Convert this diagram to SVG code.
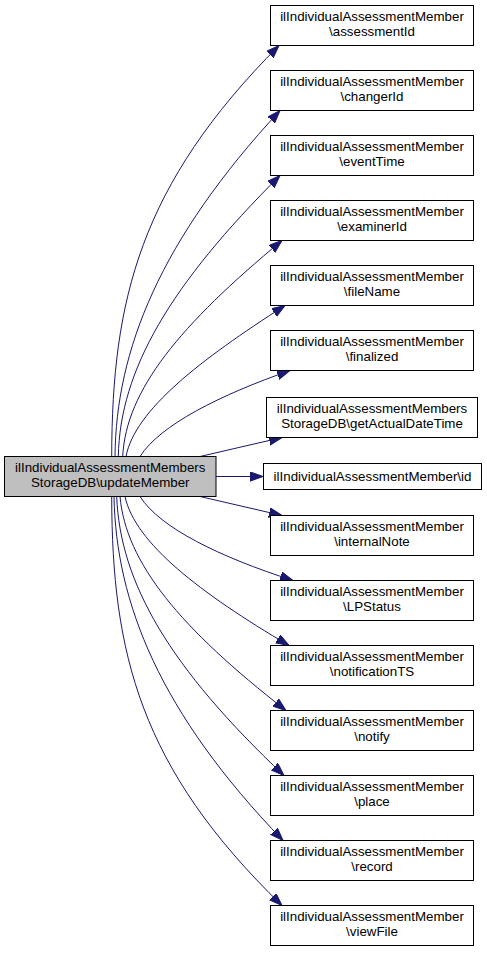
<svg xmlns="http://www.w3.org/2000/svg" width="487" height="953" viewBox="0 0 487 953">
<style>
.node rect{fill:#ffffff;stroke:#000000;stroke-width:1}
.node.cur rect{fill:#bfbfbf}
.node text{font-family:"Liberation Sans",Arial,Helvetica,sans-serif;font-size:13.33px;fill:#000000;text-anchor:middle}
.edges path{fill:none;stroke:#191970;stroke-width:1;marker-end:url(#arr)}
</style>
<defs>
<marker id="arr" markerUnits="userSpaceOnUse" markerWidth="14" markerHeight="10" refX="13" refY="4.7" orient="auto">
<path d="M0,0 L13,4.7 L0,9.4 z" fill="#191970" stroke="#191970" stroke-width="1"/>
</marker>
</defs>
<rect width="487" height="953" fill="#ffffff"/>
<g class="edges" id="edges">
<path d="M111.7,456.5 C112,300 140,185 279,45.5"/>
<path d="M115,456.5 C116,350 160,240 280,110.5"/>
<path d="M118.3,456.5 C120,370 170,285 280,175.5"/>
<path d="M122.7,456.5 C126,390 180,325 282,240.5"/>
<path d="M126,456.5 C135,410 200,360 285,305.5"/>
<path d="M140,456.5 C160,425 220,395 290,370.5"/>
<path d="M200,456.5 L282,437.5"/>
<path d="M216,476.5 L263,476.5"/>
<path d="M200,496.5 L282,515.5"/>
<path d="M140,496.5 C160,528 220,557 293,580.5"/>
<path d="M125,496.5 C135,543 200,593 289,645.5"/>
<path d="M120,496.5 C126,563 180,628 286,710.5"/>
<path d="M116.7,496.5 C120,583 170,668 284,775.5"/>
<path d="M114,496.5 C116,603 160,713 283,840.5"/>
<path d="M111.7,496.5 C112,653 140,768 282,905.5"/>
</g>
<g class="node cur" id="node_updateMember">
<rect x="4.5" y="456.5" width="211.5" height="40"/>
<text x="110.25" y="472">ilIndividualAssessmentMembers</text>
<text x="110.25" y="486.5">StorageDB\updateMember</text>
</g>
<g class="node" id="node_assessmentId">
<rect x="270.5" y="5.5" width="203" height="40"/>
<text x="372" y="21">ilIndividualAssessmentMember</text>
<text x="372" y="35.5">\assessmentId</text>
</g>
<g class="node" id="node_changerId">
<rect x="270.5" y="70.5" width="203" height="40"/>
<text x="372" y="86">ilIndividualAssessmentMember</text>
<text x="372" y="100.5">\changerId</text>
</g>
<g class="node" id="node_eventTime">
<rect x="270.5" y="135.5" width="203" height="40"/>
<text x="372" y="151">ilIndividualAssessmentMember</text>
<text x="372" y="165.5">\eventTime</text>
</g>
<g class="node" id="node_examinerId">
<rect x="270.5" y="200.5" width="203" height="40"/>
<text x="372" y="216">ilIndividualAssessmentMember</text>
<text x="372" y="230.5">\examinerId</text>
</g>
<g class="node" id="node_fileName">
<rect x="270.5" y="265.5" width="203" height="40"/>
<text x="372" y="281">ilIndividualAssessmentMember</text>
<text x="372" y="295.5">\fileName</text>
</g>
<g class="node" id="node_finalized">
<rect x="270.5" y="330.5" width="203" height="40"/>
<text x="372" y="346">ilIndividualAssessmentMember</text>
<text x="372" y="360.5">\finalized</text>
</g>
<g class="node" id="node_getActualDateTime">
<rect x="266.5" y="397.5" width="211" height="40"/>
<text x="372" y="413">ilIndividualAssessmentMembers</text>
<text x="372" y="427.5">StorageDB\getActualDateTime</text>
</g>
<g class="node" id="node_id">
<rect x="263.5" y="463.5" width="218" height="26"/>
<text x="372.5" y="481.3">ilIndividualAssessmentMember\id</text>
</g>
<g class="node" id="node_internalNote">
<rect x="270.5" y="515.5" width="203" height="40"/>
<text x="372" y="531">ilIndividualAssessmentMember</text>
<text x="372" y="545.5">\internalNote</text>
</g>
<g class="node" id="node_LPStatus">
<rect x="270.5" y="580.5" width="203" height="40"/>
<text x="372" y="596">ilIndividualAssessmentMember</text>
<text x="372" y="610.5">\LPStatus</text>
</g>
<g class="node" id="node_notificationTS">
<rect x="270.5" y="645.5" width="203" height="40"/>
<text x="372" y="661">ilIndividualAssessmentMember</text>
<text x="372" y="675.5">\notificationTS</text>
</g>
<g class="node" id="node_notify">
<rect x="270.5" y="710.5" width="203" height="40"/>
<text x="372" y="726">ilIndividualAssessmentMember</text>
<text x="372" y="740.5">\notify</text>
</g>
<g class="node" id="node_place">
<rect x="270.5" y="775.5" width="203" height="40"/>
<text x="372" y="791">ilIndividualAssessmentMember</text>
<text x="372" y="805.5">\place</text>
</g>
<g class="node" id="node_record">
<rect x="270.5" y="840.5" width="203" height="40"/>
<text x="372" y="856">ilIndividualAssessmentMember</text>
<text x="372" y="870.5">\record</text>
</g>
<g class="node" id="node_viewFile">
<rect x="270.5" y="905.5" width="203" height="40"/>
<text x="372" y="921">ilIndividualAssessmentMember</text>
<text x="372" y="935.5">\viewFile</text>
</g>
</svg>
